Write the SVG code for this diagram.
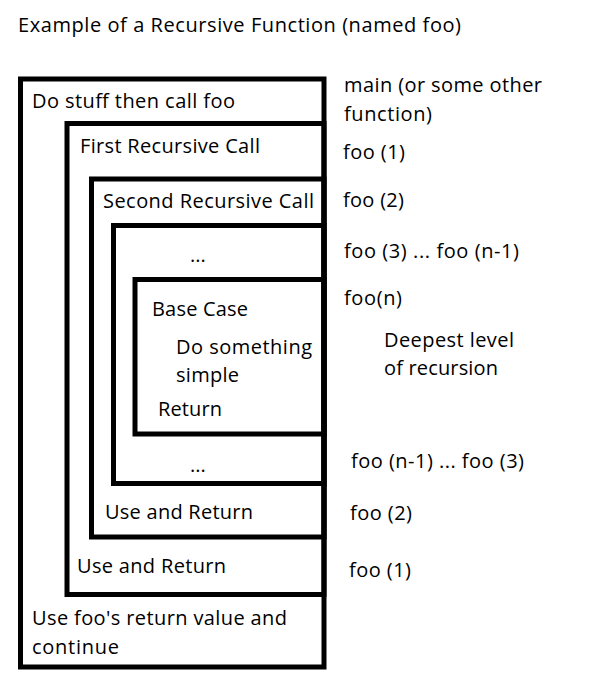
<svg xmlns="http://www.w3.org/2000/svg" width="595" height="693" viewBox="0 0 595 693">
<style>
.box{fill:none;stroke:#000;stroke-width:5}
text{font-family:"Open Sans","Liberation Sans",sans-serif;font-size:20px;fill:#000}
</style>
<rect width="595" height="693" fill="#fff"/>
<text id="title" x="18" y="32" textLength="443">Example of a Recursive Function (named foo)</text>
<g id="main">
<rect class="box" x="20.5" y="79" width="303.5" height="588"/>
<text x="32" y="108" textLength="203">Do stuff then call foo</text>
<text x="32" y="625" textLength="255">Use foo's return value and</text>
<text x="32" y="654" textLength="87">continue</text>
</g>
<g id="call1">
<rect class="box" x="67" y="123.5" width="257" height="471"/>
<text x="80" y="153" textLength="180">First Recursive Call</text>
<text x="77" y="573" textLength="149">Use and Return</text>
</g>
<g id="call2">
<rect class="box" x="91.5" y="179" width="232.5" height="358"/>
<text x="103" y="208" textLength="211">Second Recursive Call</text>
<text x="105" y="519" textLength="148">Use and Return</text>
</g>
<g id="callmid">
<rect class="box" x="113.5" y="225.5" width="210.5" height="258"/>
<text x="190" y="262">...</text>
<text x="190" y="472">...</text>
</g>
<g id="base">
<rect class="box" x="135" y="279.5" width="189" height="154.5"/>
<text x="152" y="316" textLength="96">Base Case</text>
<text x="176" y="354" textLength="136">Do something</text>
<text x="176" y="382" textLength="63">simple</text>
<text x="158" y="416" textLength="64">Return</text>
</g>
<g id="labels">
<text x="344" y="92" textLength="198">main (or some other</text>
<text x="344" y="121" textLength="88">function)</text>
<text x="343" y="159" textLength="62">foo (1)</text>
<text x="343" y="207" textLength="61">foo (2)</text>
<text x="344" y="258" textLength="175">foo (3) ... foo (n-1)</text>
<text x="344" y="305" textLength="58">foo(n)</text>
<text x="384" y="347" textLength="130">Deepest level</text>
<text x="384" y="375" textLength="114">of recursion</text>
<text x="351" y="468" textLength="173">foo (n-1) ... foo (3)</text>
<text x="350" y="520" textLength="62">foo (2)</text>
<text x="349" y="577" textLength="62">foo (1)</text>
</g>
<g id="connectors"/>
</svg>
